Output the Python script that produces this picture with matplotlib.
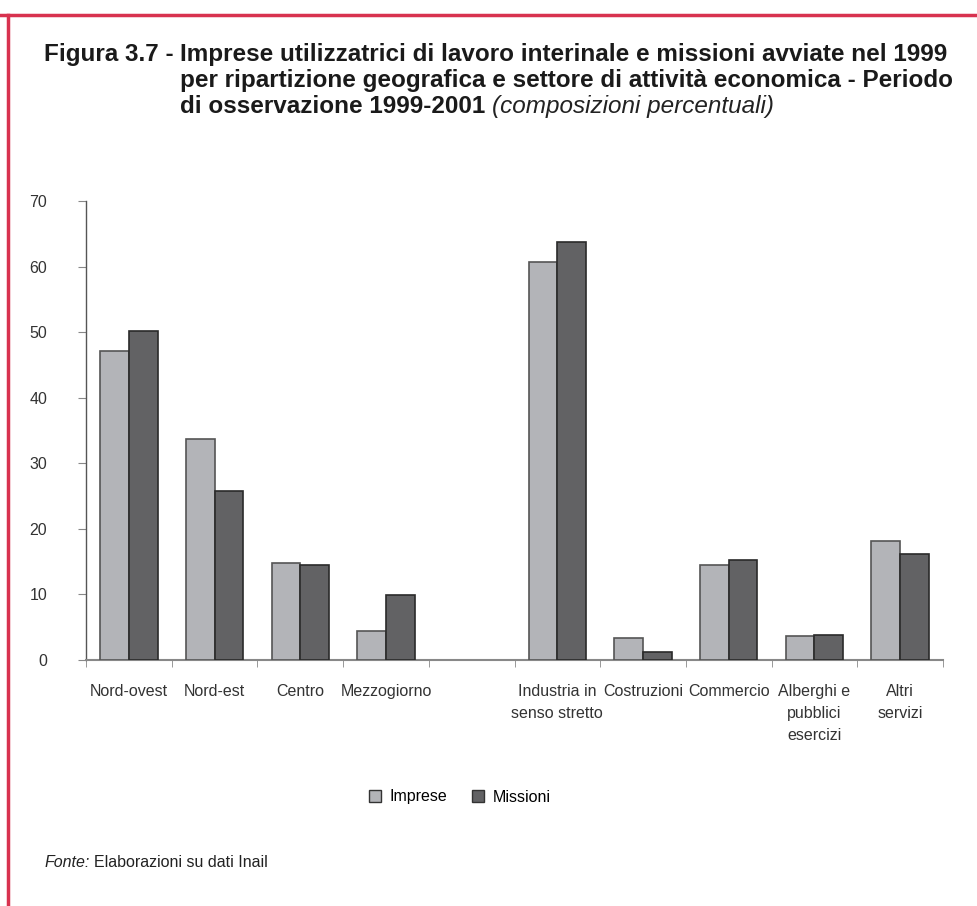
import matplotlib
matplotlib.use("Agg")
import matplotlib.pyplot as plt
from matplotlib.patches import Patch
from matplotlib.lines import Line2D
import numpy as np

categories = ["Nord-ovest", "Nord-est", "Centro", "Mezzogiorno", "",
              "Industria in\nsenso stretto", "Costruzioni", "Commercio",
              "Alberghi e\npubblici\nesercizi", "Altri\nservizi"]
imprese = [47.1, 33.7, 14.8, 4.4, np.nan, 60.7, 3.3, 14.5, 3.6, 18.1]
missioni = [50.2, 25.7, 14.5, 9.9, np.nan, 63.7, 1.2, 15.2, 3.8, 16.1]
yticks = [0, 10, 20, 30, 40, 50, 60, 70]

plt.rcParams['font.family'] = ['Liberation Sans', 'DejaVu Sans']

W, H = 978, 906
fig = plt.figure(figsize=(W / 100, H / 100), dpi=100)
ax = fig.add_axes([86 / W, 1 - 660 / H, (943 - 86) / W, (660 - 201) / H])

x = np.arange(len(categories))
w = 0.335
light = "#b3b4b8"
dark = "#626264"
ax.bar(x - w/2, imprese, w, color=light, edgecolor="#555555", linewidth=1.2, zorder=3)
ax.bar(x + w/2, missioni, w, color=dark, edgecolor="#2a2a2a", linewidth=1.2, zorder=3)

ax.set_xlim(-0.5, len(categories) - 0.5)
ax.set_ylim(0, 70)
ax.set_yticks(yticks)
ax.set_yticklabels([str(v) for v in yticks], fontsize=11.5, color="#333333")
ax.set_xticks(x)
ax.set_xticklabels(categories, fontsize=11.5, color="#333333", va="top", linespacing=1.6)
ax.tick_params(axis="x", length=0, pad=17)
ax.tick_params(axis="y", length=6, direction="out", color="#888888", pad=22)
ax.set_xticks(np.arange(len(categories) + 1) - 0.5, minor=True)
ax.tick_params(axis="x", which="minor", length=5, direction="out", color="#888888")
for s in ["top", "right"]:
    ax.spines[s].set_visible(False)
ax.spines["left"].set_color("#555555")
ax.spines["bottom"].set_color("#888888")
ax.spines["left"].set_linewidth(1.0)
ax.spines["bottom"].set_linewidth(1.5)

# legend
handles = [Patch(facecolor=light, edgecolor="#333333", label="Imprese"),
           Patch(facecolor=dark, edgecolor="#333333", label="Missioni")]
fig.legend(handles=handles, loc="center", bbox_to_anchor=(0.47, 1 - 797 / H), ncol=2,
           frameon=False, fontsize=11.5, handlelength=0.75, handleheight=0.75,
           handletextpad=0.5, columnspacing=1.6)

# title
tfs = 17.5
tx1 = 180 / W
ys = [1 - 61 / H, 1 - 87 / H, 1 - 113 / H]
fig.text(174 / W, ys[0], "Figura 3.7 -", fontsize=tfs, fontweight="bold", color="#1a1a1a",
         va="baseline", ha="right")
fig.text(tx1, ys[0], "Imprese utilizzatrici di lavoro interinale e missioni avviate nel 1999",
         fontsize=tfs, fontweight="bold", color="#1a1a1a", va="baseline")
fig.text(tx1, ys[1], "per ripartizione geografica e settore di attività economica - Periodo",
         fontsize=tfs, fontweight="bold", color="#1a1a1a", va="baseline")
t1 = fig.text(tx1, ys[2], "di osservazione 1999-2001 ", fontsize=tfs, fontweight="bold",
              color="#1a1a1a", va="baseline")
fig.canvas.draw()
bb = t1.get_window_extent()
fig.text(bb.x1 / fig.bbox.width, ys[2], "(composizioni percentuali)", fontsize=tfs,
         style="italic", color="#222222", va="baseline")

# source
t2 = fig.text(45 / W, 1 - 867 / H, "Fonte:", fontsize=11.5, style="italic", color="#222222", va="baseline")
fig.canvas.draw()
bb2 = t2.get_window_extent()
fig.text(bb2.x1 / fig.bbox.width + 0.004, 1 - 867 / H, "Elaborazioni su dati Inail", fontsize=11.5,
         color="#222222", va="baseline")

# red frame
red = "#d8324f"
fig.add_artist(Line2D([0.0, 1.0], [1 - 15 / H, 1 - 15 / H], color=red, linewidth=2.5, transform=fig.transFigure))
fig.add_artist(Line2D([8 / W, 8 / W], [0.0, 1 - 15 / H], color=red, linewidth=2.5, transform=fig.transFigure))

fig.savefig("out.png", dpi=100)
